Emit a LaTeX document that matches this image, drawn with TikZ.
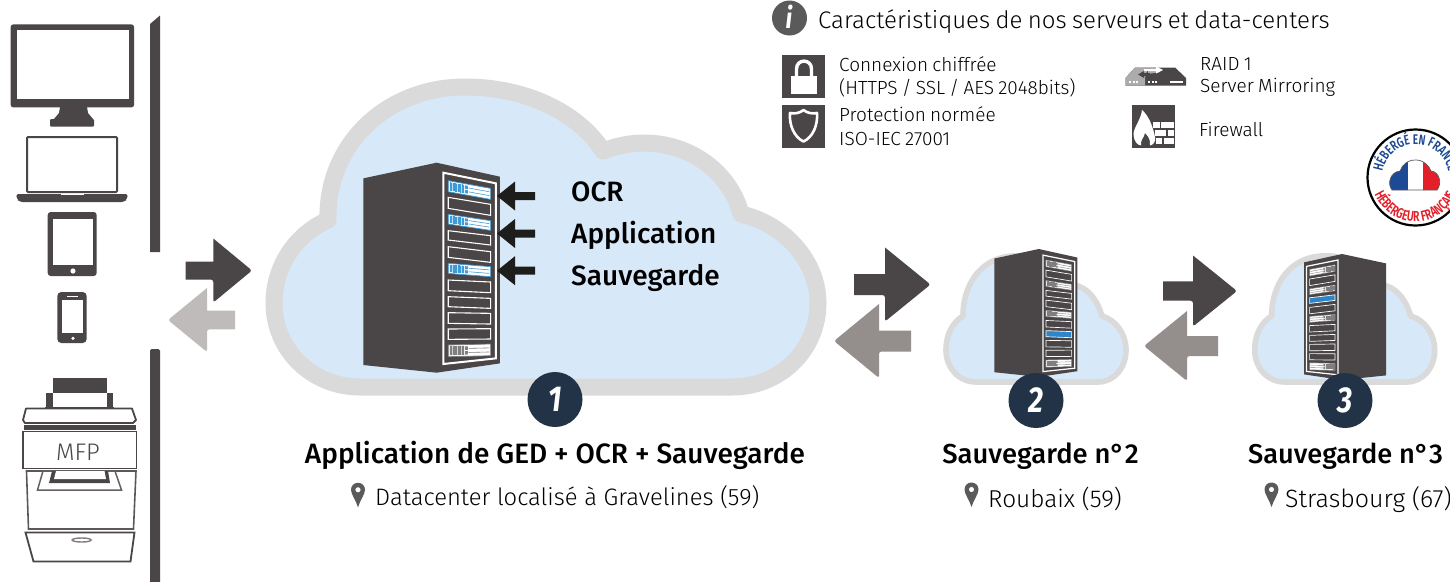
\documentclass[tikz,border=0pt]{standalone}
\usepackage{fontspec}
\setmainfont{Fira Sans}[UprightFont=* Light,BoldFont=* Medium,ItalicFont=* Light Italic,BoldItalicFont=* Bold Italic]
\newfontfamily\badgefont{Fira Sans}[FakeStretch=.72,UprightFont=* SemiBold]
\newfontfamily\numfont{Fira Sans}[FakeStretch=.82,UprightFont=* Bold Italic]
\newfontfamily\tightfont{Fira Sans}[UprightFont=* Light,WordSpace=.8]
\usetikzlibrary{decorations.text}
\definecolor{dk}{HTML}{4A4546}
\definecolor{lightar}{HTML}{BFBBBA}
\definecolor{midar}{HTML}{948E8D}
\definecolor{cloudfill}{HTML}{D7E8F8}
\definecolor{cloudline}{HTML}{DADADA}
\definecolor{navy}{HTML}{233347}
\definecolor{blk}{HTML}{1D1D1B}
\definecolor{pingrey}{HTML}{5A5A5A}
\definecolor{devblue}{HTML}{3F9AD6}
\definecolor{devgrey}{HTML}{7F7F7F}
\definecolor{solidblue}{HTML}{2E86C8}
\definecolor{frblue}{HTML}{1D4A94}
\definecolor{frred}{HTML}{E3202A}
\def\rackA{92,142,193,242,290,340,390,440,488,537,585}
\def\rackB{115,163,212,257,305,350,396,445,490,536,582}
\def\rackC{125,175,222,270,322,370,422,470,520,568,620}
\newcommand\rp[2]{({255+127*(#1)},{\ya-38+(\yb-\ya)*(#1)+(\yc-\ya)*(#2)})}
\newcommand\rack[6]{%
 \begin{scope}[shift={(#1,#2)},xscale=#3,yscale=#4]
  \fill[dk] (0,47)--(220,0)--(410,42)--(410,602)--(220,630)--(0,607)--cycle;
  \draw[white,line width=#6*2pt,line join=miter] (240,30)--(398,62)--(398,587)--(240,604)--cycle;
  \foreach \tp [count=\i] in {#5}{
   \pgfmathsetmacro\ya{{\rackA}[\i-1]}
   \pgfmathsetmacro\yb{{\rackB}[\i-1]}
   \pgfmathsetmacro\yc{{\rackC}[\i-1]}
   \if\tp e
    \draw[white,line width=#6*1.1pt] \rp{0}{0}--\rp{1}{0}--\rp{1}{1}--\rp{0}{1}--cycle;
   \fi
   \if\tp f
    \fill[solidblue] \rp{0}{0}--\rp{1}{0}--\rp{1}{1}--\rp{0}{1}--cycle;
    \draw[white,line width=#6*1.1pt] \rp{0}{0}--\rp{1}{0}--\rp{1}{1}--\rp{0}{1}--cycle;
   \fi
   \if\tp b \def\devc{devblue}\else\def\devc{devgrey}\fi
   \if\tp e\else\if\tp f\else
    \fill[white] \rp{0}{0}--\rp{1}{0}--\rp{1}{1}--\rp{0}{1}--cycle;
    \draw[\devc,line width=#6*.7pt] \rp{0}{0}--\rp{1}{0}--\rp{1}{1}--\rp{0}{1}--cycle;
    \fill[\devc!35] \rp{.03}{.12}--\rp{.38}{.12}--\rp{.38}{.88}--\rp{.03}{.88}--cycle;
    \foreach \u in {.05,.08,...,.37}{\draw[\devc,line width=#6*.55pt] \rp{\u}{.12}--\rp{\u}{.88};}
    \fill[\devc] \rp{.40}{.15}--\rp{.46}{.15}--\rp{.46}{.45}--\rp{.40}{.45}--cycle;
    \fill[\devc] \rp{.40}{.55}--\rp{.46}{.55}--\rp{.46}{.85}--\rp{.40}{.85}--cycle;
    \draw[\devc,line width=#6*.6pt] \rp{.48}{.33}--\rp{.97}{.33};
    \draw[\devc,line width=#6*.6pt] \rp{.48}{.68}--\rp{.97}{.68};
   \fi\fi
  }
 \end{scope}}
\newcommand\pinmark[2]{%
 \fill[pingrey,even odd rule] (#1,#2) .. controls (#1-2,#2-7) and (#1-7,#2-13) .. (#1-7,#2-17.5)
   .. controls (#1-7,#2-21.5) and (#1-4,#2-24.5) .. (#1,#2-24.5)
   .. controls (#1+4,#2-24.5) and (#1+7,#2-21.5) .. (#1+7,#2-17.5)
   .. controls (#1+7,#2-13) and (#1+2,#2-7) .. (#1,#2)--cycle
   (#1,#2-17.5) circle[radius=2.7pt];}
\newcommand\bigarrow[7]{% colour, tipx, tipy, headx, halfhead, shaftend, halfshaft
 \fill[#1,rounded corners=2.5pt] (#4,#3-#5) -- (#2,#3) -- (#4,#3+#5) -- (#4,#3+#7) [sharp corners] -- (#6,#3+#7) -- (#6,#3-#7) -- (#4,#3-#7) -- cycle;}
\newcommand\blackarrow[1]{\fill[blk] (497,#1)--(515,#1-14.5)--(515,#1-4)--(535,#1-4)--(535,#1+4)--(515,#1+4)--(515,#1+14.5)--cycle;}
\tikzset{
 cloudstyle/.style={draw=cloudline,fill=cloudfill,line join=round},
 txt/.style={anchor=base west,inner sep=0pt,text=black},
 ctr/.style={anchor=base,inner sep=0pt,text=black},
 numdisc/.style={fill=navy,circle,inner sep=0pt,minimum size=55pt,text=white,font=\fontsize{36}{36}\numfont},
 outl/.style={draw=dk,line width=1.8pt,line join=round},
 feat/.style={txt,font=\fontsize{19}{19}\tightfont},
}
\begin{document}
\begin{tikzpicture}[x=1pt,y=-1pt]
\useasboundingbox (0,0) rectangle (1450,581);
\clip (0,0) rectangle (1450,581);
\fill[white] (0,0) rectangle (1450,581);

% devices: monitor
\fill[dk,rounded corners=2.5pt] (10.7,24.4) rectangle (134,107.4);
\fill[white] (17,29.6) rectangle (129,99);
\fill[dk] (60,107)--(87,107)--(88,113)--(93,119)--(54,119)--(59,113)--cycle;
\fill[dk,rounded corners=1pt] (50,119) rectangle (94,126.7);
% laptop
\draw[dk,line width=2pt,rounded corners=1pt] (27,137) rectangle (117,192);
\fill[dk,rounded corners=2.5pt] (16,194) -- (128,194) -- (127,199) -- (124,202) -- (20,202) -- (17,199) -- cycle;
\fill[white] (61,194) rectangle (84,195.2);
% tablet
\fill[dk,rounded corners=3pt] (47.7,212) rectangle (96.7,276);
\fill[white] (52.7,219) rectangle (93,265);
\fill[white] (73,271) circle[radius=2.6pt];
% phone
\fill[dk,rounded corners=4pt] (57.3,292) rectangle (86.7,343);
\fill[white] (62,299.5) rectangle (82.7,333);
\fill[white] (67,295.5) rectangle (78,296.5);
\fill[white] (73,338.3) circle[radius=1.8pt];
% printer
\fill[dk] (52.7,378) rectangle (106.7,393);
\fill[dk] (45.7,393) rectangle (52.7,407);
\fill[dk] (106.7,393) rectangle (113,407);
\draw[dk,line width=1pt] (45,407) -- (114,407);
\draw[outl] (26,408.5)--(132,408.5)--(136,420)--(133,423)--(25,423)--(23,420)--cycle;
\fill[dk] (24,425) rectangle (136,430);
\draw[dk,line width=1.8pt] (23,431.5) rectangle (136.5,468.5);
\node[text=dk,font=\fontsize{24}{24}\selectfont,inner sep=0pt,anchor=base] (mfp) at (78,460) {MFP};
\draw[dk!90,line width=1.6pt] (26.5,471)--(136,471)--(133.5,529)--(28.5,529)--cycle;
\draw[dk!85,line width=1.5pt,fill=white] (43,471)--(115,471)--(121.5,490)--(37.5,490)--cycle;
\fill[dk] (52,471)--(108,471)--(110,483)--(49,483)--cycle;
\fill[white] (56,471)--(104.5,471)--(106,479)--(54,479)--cycle;
\draw[dk,line width=1.8pt] (25.5,532.5)--(134.5,532.5)--(130.5,561.5)--(33.5,561.5)--cycle;
\draw[dk!70,line width=1.4pt] (81.7,540) ellipse[x radius=9.5pt,y radius=2pt];
% bar
\fill[dk] (150,24)--(160,15.5)--(160,252)--(150,252)--cycle;
\fill[dk,rounded corners=1.5pt] (150,349) -- (160,349) -- (160,590) -- (150,590) -- cycle;

% clouds
\draw[cloudstyle,line width=17pt] (360,387) .. controls (312,387) and (274,350) .. (274,303)
 .. controls (274,266) and (296,234) .. (328,220) .. controls (326,145) and (386,87) .. (465,87)
 .. controls (525,87) and (578,112) .. (603,151) .. controls (616,146) and (630,143) .. (644,143)
 .. controls (690,143) and (730,172) .. (741,214) .. controls (785,224) and (818,262) .. (818,303)
 .. controls (818,350) and (780,387) .. (732,387) -- cycle;
\foreach \dx in {0,308.7}{
\begin{scope}[xshift=\dx pt]
\draw[cloudstyle,line width=5.6pt] (976,382) .. controls (959,382) and (946,368) .. (946,350)
 .. controls (946,334) and (953,322) .. (963,316) .. controls (963,283) and (982,258) .. (1012,256)
 .. controls (1040,254) and (1050,268) .. (1058,284) .. controls (1063,283) and (1072,283) .. (1078,286)
 .. controls (1090,290) and (1098,302) .. (1102,316) .. controls (1116,320) and (1126,334) .. (1126,350)
 .. controls (1126,368) and (1114,382) .. (1098,382) -- cycle;
\end{scope}}

% racks
\rack{363.3}{162.7}{0.3333}{0.3333}{b,e,b,e,e,b,e,e,e,e,d}{1}
\rack{994.3}{249}{0.2024}{0.203}{d,e,d,e,e,d,e,f,e,e,d}{.62}
\rack{1386}{254}{-0.2}{0.2}{d,e,d,f,e,d,e,e,e,e,d}{.62}

% small arrows
\blackarrow{196}\blackarrow{233.5}\blackarrow{270.7}

% large arrows
\bigarrow{dk}{252}{270.5}{213.3}{32}{185.7}{9}
\bigarrow{lightar}{168}{320}{207}{32}{235}{9.3}
\bigarrow{dk}{930.5}{284.5}{885}{37}{854}{10.5}
\bigarrow{midar}{834}{341}{879}{37}{911}{10.5}
\bigarrow{dk}{1237}{291}{1193}{35.5}{1163}{9.7}
\bigarrow{midar}{1144}{346}{1187}{35}{1218}{10}

% discs
\node[numdisc] (n1) at (555,399.5) {1};
\node[numdisc] (n2) at (1036,400.5) {2};
\node[numdisc] (n3) at (1345,400.5) {3};

% texts in cloud
\node[txt,font=\fontsize{28}{28}\selectfont\bfseries] (t1) at (571,201) {OCR};
\node[txt,font=\fontsize{28}{28}\selectfont\bfseries] (t2) at (571,243) {Application};
\node[txt,font=\fontsize{28}{28}\selectfont\bfseries] (t3) at (571,285) {Sauvegarde};

% captions
\node[ctr,font=\fontsize{28}{28}\selectfont\bfseries] (c1) at (555,463) {Application de GED + OCR + Sauvegarde};
\node[ctr,font=\fontsize{27.4}{27.4}\selectfont\bfseries] (c2) at (1040.5,463) {Sauvegarde n°2};
\node[ctr,font=\fontsize{27.2}{27.2}\selectfont\bfseries] (c3) at (1345.5,463) {Sauvegarde n°3};
\node[txt,font=\fontsize{23.8}{23.8}\selectfont] (l1) at (375,505) {Datacenter localisé à Gravelines (59)};
\node[txt,font=\fontsize{24.4}{24.4}\selectfont] (l2) at (988,507) {Roubaix (59)};
\node[txt,font=\fontsize{25}{25}\selectfont] (l3) at (1285,507) {Strasbourg (67)};
\pinmark{358}{507.3}
\pinmark{971.5}{507}
\pinmark{1271.5}{507}

% info header
\fill[pingrey] (789.5,18) circle[radius=17.5pt];
\node[inner sep=0pt,text=white,font=\fontsize{29}{29}\numfont] (ii) at (789,17) {i};
\node[txt,font=\fontsize{24}{24}\tightfont] (h) at (818,28.3) {Caractéristiques de nos serveurs et data-centers};

% feature icons
\fill[dk] (782,55) rectangle (825,97.7);
\fill[white] (791,75.5) rectangle (817,93.5);
\draw[white,line width=3.4pt] (796.5,76) -- (796.5,69) .. controls (796.5,58.5) and (811.5,58.5) .. (811.5,69) -- (811.5,76);
\fill[dk] (782,105) rectangle (825,147.7);
\draw[white,line width=2.6pt,line join=round] (790,113) .. controls (795,114) and (800,113) .. (803.5,110) .. controls (807,113) and (812,114) .. (817,113) .. controls (818,125) and (813,137) .. (803.5,141.5) .. controls (794,137) and (789,125) .. (790,113) -- cycle;
\fill[dk] (1132,105) rectangle (1175,147.7);
\fill[white] (1133.5,135) .. controls (1133,128) and (1141,120) .. (1142,110) .. controls (1149,116) and (1153,127) .. (1155,137) .. controls (1156,142) and (1153,145) .. (1150,145.5) .. controls (1151,139) and (1147,135) .. (1145,133) .. controls (1144,138) and (1140,140) .. (1141,145.5) .. controls (1137,145) and (1134,141) .. (1133.5,135) -- cycle;
\foreach \yy/\xa/\xb in {122/1161/1174,122/1153/1159.5,130/1155/1166,130/1168/1174,138/1156/1162,138/1164/1174}{\fill[white] (\xa,\yy) rectangle (\xb,\yy+6.3);}
\fill[white] (1155,122) rectangle (1160,128.3);
% raid
\fill[dk] (1135,67.5)--(1175,67.5)--(1186,78)--(1186,85.5)--(1125.5,85.5)--(1125.5,78)--cycle;
\fill[gray!65] (1135,67.5)--(1148,67.5)--(1145,78)--(1145,85.5)--(1125.5,85.5)--(1125.5,78)--cycle;
\fill[gray!65] (1148,67.5)--(1158,67.5)--(1160,72)--(1148,74)--cycle;
\fill[dk] (1138,74.5)--(1144,71)--(1144,73)--(1150,73)--(1150,76)--(1144,76)--(1144,78)--cycle;
\fill[white] (1144,69)--(1156,69)--(1156,66.5)--(1163,70)--(1156,73.5)--(1156,71)--(1144,71)--cycle;
\fill[white] (1129,81) rectangle (1131,83);\fill[white] (1132.5,81) rectangle (1134.5,83);\fill[white] (1136,81) rectangle (1138,83);
\fill[white] (1148,81) rectangle (1150,83);\fill[white] (1151.5,81) rectangle (1153.5,83);\fill[white] (1155,81) rectangle (1157,83);
\fill[white] (1170,80.7) rectangle (1183,82.7);

\node[feat] (f1) at (839,71.7) {Connexion chiffrée};
\node[feat] (f2) at (839,94) {(HTTPS / SSL / AES 2048bits)};
\node[feat] (f3) at (839,121.7) {Protection normée};
\node[feat] (f4) at (839,145) {ISO-IEC 27001};
\node[feat] (f5) at (1200,70) {RAID 1};
\node[feat] (f6) at (1200,92.7) {Server Mirroring};
\node[feat] (f7) at (1199,136) {Firewall};

% label
\draw[black,line width=2.2pt,fill=white] (1415.5,177.5) circle[radius=48pt];
\begin{scope}
\clip (1392,190) .. controls (1387,184) and (1390,172) .. (1400,171) .. controls (1402,164) and (1410,159) .. (1416,160) .. controls (1424,160) and (1429,166) .. (1431,171) .. controls (1440,172) and (1442,184) .. (1437,190) -- cycle;
\fill[frblue] (1385,155) rectangle (1408,195);
\fill[white] (1408,155) rectangle (1423,195);
\fill[frred] (1423,155) rectangle (1445,195);
\end{scope}
\draw[gray!70!black,line width=.7pt] (1392,190) .. controls (1387,184) and (1390,172) .. (1400,171) .. controls (1402,164) and (1410,159) .. (1416,160) .. controls (1424,160) and (1429,166) .. (1431,171) .. controls (1440,172) and (1442,184) .. (1437,190) -- cycle;
\path[decorate,decoration={text along path,text align=center,text={|\fontsize{14}{14}\badgefont\color{frblue}|HÉBERGÉ EN FRANCE}}]
 plot[domain=172:8,samples=40] ({1415.5+33.5*cos(\x)},{177.5-33.5*sin(\x)});
\path[decorate,decoration={text along path,text align=center,text={|\fontsize{14.5}{14.5}\badgefont\color{frred}|HÉBERGEUR FRANÇAIS}}]
 plot[domain=190:350,samples=40] ({1415.5+44*cos(\x)},{177.5-44*sin(\x)});
\end{tikzpicture}
\end{document}
